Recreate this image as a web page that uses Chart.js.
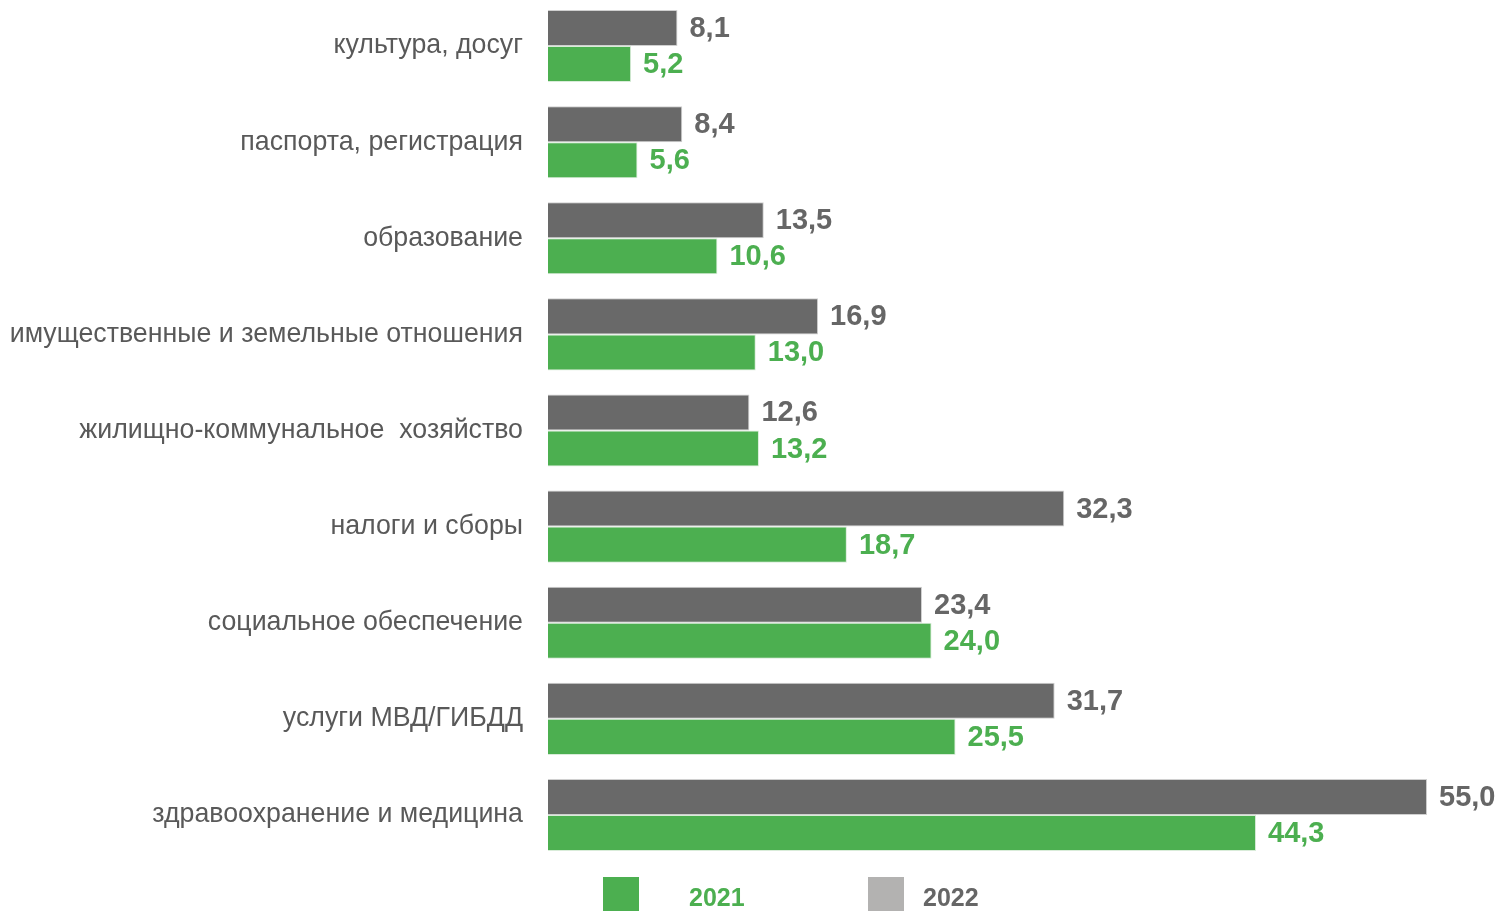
<!DOCTYPE html>
<html>
<head>
<meta charset="utf-8">
<script src="https://cdn.jsdelivr.net/npm/chart.js@4"></script>
<style>
  body { margin: 0; background: #fff; overflow: hidden; }
  #wrap { position: relative; width: 1504px; height: 911px; overflow: hidden; }
  #chart { position: absolute; left: 0; top: 0; }
  .legend-box { position: absolute; width: 36px; height: 36px; top: 877px; }
  .legend-text { position: absolute; top: 883px; font: bold 25px "Liberation Sans", Arial, sans-serif; }
</style>
</head>
<body>
<div id="wrap">
  <canvas id="chart" width="1504" height="911"></canvas>
  <div class="legend-box" style="left:603px;background:#4caf50"></div>
  <div class="legend-text" style="left:689px;color:#4caf50">2021</div>
  <div class="legend-box" style="left:868px;background:#b3b2b1"></div>
  <div class="legend-text" style="left:923px;color:#666">2022</div>
</div>
<script>
const categories = [
  'культура, досуг',
  'паспорта, регистрация',
  'образование',
  'имущественные и земельные отношения',
  'жилищно-коммунальное  хозяйство',
  'налоги и сборы',
  'социальное обеспечение',
  'услуги МВД/ГИБДД',
  'здравоохранение и медицина'
];
const values2022 = [8.1, 8.4, 13.5, 16.9, 12.6, 32.3, 23.4, 31.7, 55.0];
const values2021 = [5.2, 5.6, 10.6, 13.0, 13.2, 18.7, 24.0, 25.5, 44.3];

const grayBar = '#696969';
const greenBar = '#4caf50';

// value labels to the right of each bar
const valueLabels = {
  id: 'valueLabels',
  afterDatasetsDraw(chart) {
    const ctx = chart.ctx;
    ctx.save();
    ctx.font = 'bold 29px "Liberation Sans", Arial, sans-serif';
    ctx.textBaseline = 'middle';
    ctx.textAlign = 'left';
    chart.data.datasets.forEach((ds, di) => {
      const meta = chart.getDatasetMeta(di);
      ctx.fillStyle = ds.labelColor;
      meta.data.forEach((bar, i) => {
        const txt = ds.data[i].toFixed(1).replace('.', ',');
        ctx.fillText(txt, bar.x + 12, bar.y + 1);
      });
    });
    ctx.restore();
  }
};

// pin the plot area to the same box as the original
const fixArea = {
  id: 'fixArea',
  afterLayout(chart) {
    const y = chart.scales.y;
    y.top = -2; y.bottom = 863; y.height = 865;
    chart.chartArea.top = -2;
    chart.chartArea.bottom = 863;
    chart.chartArea.height = 865;
    y.configure();
  }
};

new Chart(document.getElementById('chart'), {
  type: 'bar',
  data: {
    labels: categories,
    datasets: [
      {
        label: '2022',
        data: values2022,
        backgroundColor: grayBar,
        borderColor: '#d0d0d0',
        borderWidth: 1,
        labelColor: '#666'
      },
      {
        label: '2021',
        data: values2021,
        backgroundColor: greenBar,
        borderColor: '#d9ecd9',
        borderWidth: 1,
        labelColor: '#4caf50'
      }
    ]
  },
  options: {
    indexAxis: 'y',
    responsive: false,
    animation: false,
    layout: { padding: { top: 0, right: 29, bottom: 48, left: 0 } },
    datasets: { bar: { barPercentage: 1, categoryPercentage: 0.75 } },
    plugins: {
      legend: { display: false },
      tooltip: { enabled: false }
    },
    scales: {
      x: { display: false, min: 0, max: 58 },
      y: {
        grid: { display: false, drawTicks: false },
        border: { display: false },
        ticks: {
          color: '#595959',
          padding: 25,
          font: { family: '"Liberation Sans", Arial, sans-serif', size: 26.75 }
        },
        afterFit(scale) { scale.width = 548; }
      }
    }
  },
  plugins: [fixArea, valueLabels]
});
</script>
</body>
</html>
